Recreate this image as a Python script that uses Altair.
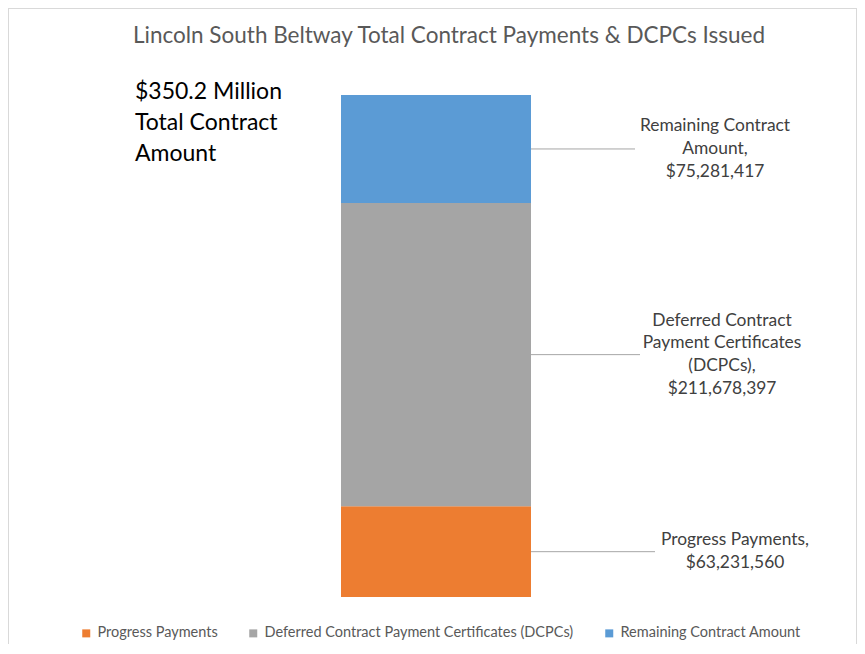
import altair as alt
import pandas as pd

# ---- data ----
title_text = "Lincoln South Beltway Total Contract Payments & DCPCs Issued"
note_lines = ["$350.2 Million", "Total Contract", "Amount"]
categories = [
    "Progress Payments",
    "Deferred Contract Payment Certificates (DCPCs)",
    "Remaining Contract Amount",
]
values = [63231560, 211678397, 75281417]
label_lines = [
    ["Progress Payments,", "$63,231,560"],
    ["Deferred Contract", "Payment Certificates", "(DCPCs),", "$211,678,397"],
    ["Remaining Contract", "Amount,", "$75,281,417"],
]
colors = ["#ED7D31", "#A5A5A5", "#5B9BD5"]

# ---- layout (styles / positions) ----
FONT = "Lato"
W, H = 849, 636
line_end_x = [647, 632, 627]
text_x = [727, 714, 707]
LH = 22.7

df = pd.DataFrame({"category": categories, "value": values, "order": list(range(len(values)))})
df["y1"] = df["value"].cumsum()
df["y0"] = df["y1"] - df["value"]
df["mid"] = (df["y0"] + df["y1"]) / 2
df["label"] = ["\n".join(l) for l in label_lines]
df["group"] = "Total"
total = float(sum(values))

yscale = alt.Scale(domain=[0, total], range=[589, 87], nice=False, zero=False)

bars = alt.Chart(df).mark_bar().encode(
    x=alt.X("group:N", scale=alt.Scale(range=[333, 523], paddingInner=0, paddingOuter=0), axis=None),
    y=alt.Y("y0:Q", scale=yscale, axis=None),
    y2="y1:Q",
    color=alt.Color(
        "category:N",
        scale=alt.Scale(domain=categories, range=colors),
        legend=alt.Legend(
            title=None, orient="none", legendX=71, legendY=618, direction="horizontal",
            symbolType="square", symbolSize=64, symbolStrokeWidth=0,
            labelFont=FONT, labelFontSize=14.5, labelColor="#595959",
            labelOffset=4, columnPadding=28, padding=0, labelLimit=0,
        ),
    ),
)

layers = [bars]
for i in range(len(values)):
    sub = alt.Chart(df).transform_filter(alt.datum.order == i)
    n = len(label_lines[i])
    layers.append(
        sub.mark_rule(color="#A6A6A6", strokeWidth=1).encode(
            x=alt.value(523), x2=alt.value(line_end_x[i]),
            y=alt.Y("mid:Q", scale=yscale, axis=None),
        )
    )
    layers.append(
        sub.mark_text(align="center", baseline="middle", lineBreak="\n", lineHeight=LH,
                      dy=-(n - 1) * LH / 2,
                      fontSize=17.4, color="#404040", font=FONT).encode(
            x=alt.value(text_x[i]),
            y=alt.Y("mid:Q", scale=yscale, axis=None),
            text="label:N",
        )
    )

one = pd.DataFrame({"k": [0]})
title = alt.Chart(one).mark_text(align="center", baseline="middle", fontSize=22.5,
                                 color="#595959", font=FONT).encode(
    x=alt.value(441), y=alt.value(28), text=alt.value(title_text))
note = alt.Chart(one).mark_text(align="left", baseline="middle", fontSize=23, lineBreak="\n",
                                lineHeight=31, color="#000000", font=FONT).encode(
    x=alt.value(127), y=alt.value(84), text=alt.value("\n".join(note_lines)))

frame_top = alt.Chart(one).mark_rule(color="#D9D9D9").encode(
    x=alt.value(0), x2=alt.value(W), y=alt.value(0.5))
frame_left = alt.Chart(one).mark_rule(color="#D9D9D9").encode(
    x=alt.value(0.5), y=alt.value(0), y2=alt.value(H))
frame_right = alt.Chart(one).mark_rule(color="#D9D9D9").encode(
    x=alt.value(W - 0.5), y=alt.value(0), y2=alt.value(H))

chart = alt.layer(frame_top, frame_left, frame_right, *layers, title, note).properties(
    width=W, height=H, padding=0, autosize=alt.AutoSizeParams(type="none"),
    background="white",
).configure_view(stroke=None)

chart.save("out.html", embed_options={"renderer": "svg", "actions": False})
